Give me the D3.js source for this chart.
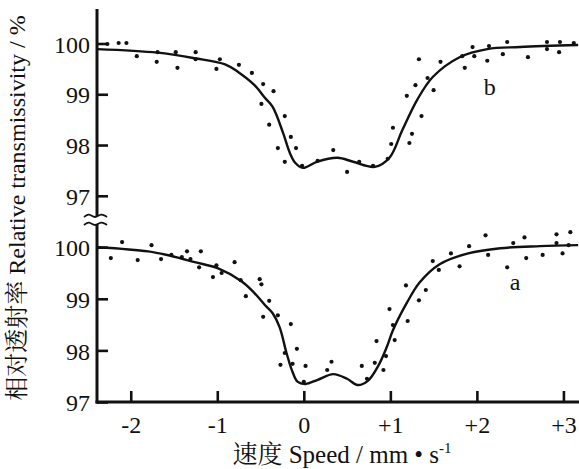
<!DOCTYPE html>
<html>
<head>
<meta charset="utf-8">
<script src="https://cdn.jsdelivr.net/npm/d3@7"></script>
<style>
  body { margin: 0; background: #fff; }
  svg { display: block; }
</style>
</head>
<body>
<svg id="chart" width="579" height="469"></svg>
<script>
// speed ticks (mm/s) and transmissivity ticks (%)
const xTicks = [-2, -1, 0, 1, 2, 3];
const yTicks = [97, 98, 99, 100];

// fitted curve, sample b (upper panel)
const fitB = [[-2.39, 99.89], [-1.69, 99.82], [-1.26, 99.71], [-0.91, 99.59], [-0.76, 99.44],
  [-0.57, 99.18], [-0.45, 98.93], [-0.36, 98.75], [-0.24, 98.24], [-0.16, 97.84], [-0.10, 97.65],
  [-0.01, 97.55], [0.15, 97.67], [0.39, 97.75], [0.57, 97.67], [0.82, 97.57], [0.99, 97.75],
  [1.14, 98.30], [1.31, 98.89], [1.49, 99.34], [1.80, 99.73], [2.12, 99.89], [2.50, 99.93], [3.17, 99.97]];

// measured points, sample b
const dotsB = [[-2.27, 99.99], [-2.14, 100.01], [-2.05, 100.01], [-1.93, 99.75], [-1.70, 99.64],
  [-1.69, 99.83], [-1.48, 99.83], [-1.46, 99.52], [-1.25, 99.83], [-1.25, 99.69], [-0.97, 99.69],
  [-1.01, 99.50], [-0.75, 99.58], [-0.60, 99.42], [-0.47, 99.20], [-0.35, 99.06], [-0.49, 98.81],
  [-0.22, 98.57], [-0.40, 98.40], [-0.15, 98.16], [-0.09, 97.94], [-0.30, 97.94], [-0.22, 97.67],
  [-0.02, 97.59], [0.16, 97.69], [0.34, 97.90], [0.50, 97.47], [0.64, 97.67], [0.80, 97.59],
  [0.97, 97.73], [1.01, 98.02], [1.03, 98.34], [1.22, 98.04], [1.25, 98.22], [1.19, 98.97],
  [1.36, 98.57], [1.29, 99.18], [1.33, 99.69], [1.43, 99.32], [1.50, 99.08], [1.58, 99.64],
  [1.83, 99.75], [1.86, 99.52], [1.95, 99.93], [1.97, 99.75], [2.12, 99.66], [2.14, 99.95],
  [2.30, 99.79], [2.35, 100.03], [2.59, 99.73], [2.81, 99.89], [2.81, 100.03], [2.95, 99.83],
  [2.96, 100.03], [3.12, 100.01]];

// fitted curve, sample a (lower panel)
const fitA = [[-2.38, 100.00], [-1.80, 99.92], [-1.53, 99.83], [-1.26, 99.71], [-0.99, 99.59],
  [-0.72, 99.34], [-0.57, 99.11], [-0.45, 98.88], [-0.36, 98.72], [-0.28, 98.45], [-0.20, 97.95],
  [-0.13, 97.58], [-0.07, 97.39], [0.02, 97.35], [0.16, 97.43], [0.34, 97.54], [0.50, 97.45],
  [0.62, 97.33], [0.74, 97.41], [0.86, 97.70], [0.96, 98.07], [1.03, 98.39], [1.19, 98.92],
  [1.34, 99.32], [1.57, 99.67], [1.90, 99.88], [2.27, 99.98], [2.73, 100.02], [3.17, 100.04]];

// measured points, sample a
const dotsA = [[-2.23, 99.79], [-2.10, 100.10], [-1.92, 99.75], [-1.76, 100.04], [-1.65, 99.77],
  [-1.53, 99.85], [-1.41, 99.81], [-1.35, 99.92], [-1.31, 99.77], [-1.19, 99.92], [-1.21, 99.61],
  [-1.01, 99.65], [-1.05, 99.42], [-0.95, 99.50], [-0.80, 99.71], [-0.73, 99.36], [-0.67, 99.05],
  [-0.51, 99.38], [-0.49, 99.28], [-0.40, 98.96], [-0.47, 98.65], [-0.30, 98.68], [-0.15, 98.51],
  [-0.08, 98.03], [-0.22, 97.95], [-0.13, 97.74], [-0.27, 97.72], [0.02, 97.70], [0.00, 97.39],
  [0.27, 97.62], [0.32, 97.78], [0.67, 97.70], [0.82, 97.76], [0.73, 97.45], [0.84, 98.18],
  [0.95, 97.89], [0.92, 97.62], [0.99, 98.80], [1.03, 98.49], [1.05, 98.20], [1.18, 99.26],
  [1.20, 98.57], [1.33, 98.97], [1.41, 99.17], [1.49, 99.73], [1.56, 99.56], [1.70, 99.88],
  [1.80, 99.63], [1.91, 100.02], [2.13, 99.85], [2.10, 100.23], [2.35, 99.61], [2.42, 100.08],
  [2.55, 100.19], [2.57, 99.79], [2.76, 99.85], [2.92, 100.25], [2.92, 100.08], [2.99, 99.88],
  [3.08, 100.29], [3.06, 100.04]];

const FONT = '"Liberation Serif", "Noto Serif CJK SC", serif';
const svg = d3.select("#chart");
const x0 = 97, x1 = 579, yAxisBottom = 402;

const x = d3.scaleLinear().domain([-2.39, 3.18]).range([x0, x1]);
const yTop = d3.scaleLinear().domain([96.72, 100.66]).range([210, 10]);
const yBot = d3.scaleLinear().domain([97, 100.43]).range([yAxisBottom, 225]);

function styleText(sel, size) {
  return sel.style("font-family", FONT).style("font-size", size + "px").style("fill", "#111");
}

// y axes (ticks pointing inward)
function drawYAxis(scale) {
  const g = svg.append("g")
    .attr("transform", `translate(${x0},0)`)
    .call(d3.axisLeft(scale).tickValues(yTicks).tickSize(-11).tickPadding(7).tickFormat(d3.format("d")));
  g.select(".domain").remove();
  g.selectAll(".tick line").attr("stroke", "#111").attr("stroke-width", 2.6);
  styleText(g.selectAll(".tick text"), 24).attr("dy", "0.36em");
}
drawYAxis(yTop);
drawYAxis(yBot);

// x axis
const gx = svg.append("g")
  .attr("transform", `translate(0,${yAxisBottom})`)
  .call(d3.axisBottom(x).tickValues(xTicks).tickSize(-11).tickPadding(14)
    .tickFormat(d => d > 0 ? "+" + d : d < 0 ? "-" + Math.abs(d) : "0"));
gx.select(".domain").remove();
gx.selectAll(".tick line").attr("stroke", "#111").attr("stroke-width", 2.6);
styleText(gx.selectAll(".tick text"), 24);

// axis lines with break
function line(xa, ya, xb, yb) {
  svg.append("line").attr("x1", xa).attr("y1", ya).attr("x2", xb).attr("y2", yb)
    .attr("stroke", "#111").attr("stroke-width", 3);
}
line(x0, 9, x0, 216);
line(x0, 224, x0, yAxisBottom + 1.5);
line(x0 - 1.5, yAxisBottom, x1, yAxisBottom);

// break marks (two small waves across the y axis)
const wave = d3.line().curve(d3.curveBasis);
[216, 224].forEach(yy => {
  svg.append("path")
    .attr("d", wave([[x0 - 13, yy + 1], [x0 - 8, yy - 3], [x0 - 2, yy + 3], [x0 + 4, yy - 3], [x0 + 10, yy + 1]]))
    .attr("stroke", "#111").attr("stroke-width", 1.8).attr("fill", "none");
});

// curves and dots
function drawSeries(fit, dots, yScale) {
  svg.append("path")
    .datum(fit)
    .attr("d", d3.line().x(d => x(d[0])).y(d => yScale(d[1])).curve(d3.curveCatmullRom.alpha(0.5)))
    .attr("fill", "none").attr("stroke", "#111").attr("stroke-width", 2.4);
  svg.append("g").selectAll("circle")
    .data(dots)
    .join("circle")
    .attr("cx", d => x(d[0]))
    .attr("cy", d => yScale(d[1]))
    .attr("r", 2.1)
    .attr("fill", "#111");
}
drawSeries(fitB, dotsB, yTop);
drawSeries(fitA, dotsA, yBot);

// series labels
styleText(svg.append("text"), 24).attr("x", x(2.15)).attr("y", yTop(98.99))
  .attr("text-anchor", "middle").text("b");
styleText(svg.append("text"), 24).attr("x", x(2.44)).attr("y", yBot(99.17))
  .attr("text-anchor", "middle").text("a");

// axis titles
const xt = styleText(svg.append("text"), 25)
  .attr("x", 342).attr("y", 463).attr("text-anchor", "middle");
xt.append("tspan").text("速度 Speed / mm • s");
xt.append("tspan").attr("dy", -10).style("font-size", "15px").text("-1");

styleText(svg.append("text"), 24)
  .attr("transform", "translate(25,208) rotate(-90)")
  .attr("text-anchor", "middle")
  .text("相对透射率 Relative transmissivity / %");
</script>
</body>
</html>
